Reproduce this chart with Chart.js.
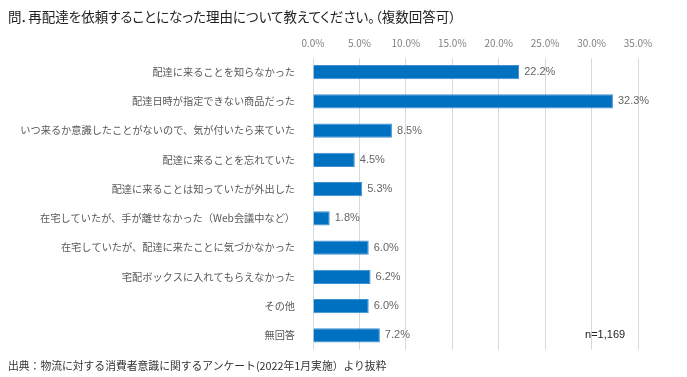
<!DOCTYPE html>
<html lang="ja">
<head>
<meta charset="utf-8">
<script src="https://cdn.jsdelivr.net/npm/chart.js@4"></script>
<style>
  html, body { margin: 0; padding: 0; background: #fff; }
  #wrap { position: relative; width: 687px; height: 377px; overflow: hidden; }
  #c { position: absolute; left: 0; top: 0; }
  .txt { position: absolute; font-family: "Noto Sans CJK JP", sans-serif; white-space: nowrap; }
  #title { left: 8px; top: 6px; font-size: 13.5px; color: #222; font-feature-settings: "palt"; }
  #foot { left: 8px; top: 357px; font-size: 10.8px; color: #333; }
</style>
</head>
<body>
<div id="wrap">
  <canvas id="c" width="687" height="377"></canvas>
  <div id="title" class="txt">問．再配達を依頼することになった理由について教えてください。（複数回答可）</div>
  <div id="foot" class="txt">出典：物流に対する消費者意識に関するアンケート(2022年1月実施）より抜粋</div>
</div>
<script>
const categories = [
  "配達に来ることを知らなかった",
  "配達日時が指定できない商品だった",
  "いつ来るか意識したことがないので、気が付いたら来ていた",
  "配達に来ることを忘れていた",
  "配達に来ることは知っていたが外出した",
  "在宅していたが、手が離せなかった（Web会議中など）",
  "在宅していたが、配達に来たことに気づかなかった",
  "宅配ボックスに入れてもらえなかった",
  "その他",
  "無回答"
];
const values = [22.2, 32.3, 8.5, 4.5, 5.3, 1.8, 6.0, 6.2, 6.0, 7.2];
const tickValues = [0, 5, 10, 15, 20, 25, 30, 35];
const sampleNote = "n=1,169";

const valueLabels = {
  id: 'valueLabels',
  afterDatasetsDraw(chart) {
    const ctx = chart.ctx;
    const meta = chart.getDatasetMeta(0);
    ctx.save();
    ctx.font = '11px "Liberation Sans", Arial, sans-serif';
    ctx.fillStyle = '#666666';
    ctx.textAlign = 'left';
    ctx.textBaseline = 'middle';
    meta.data.forEach((bar, i) => {
      ctx.fillText(values[i].toFixed(1) + '%', bar.x + 5, bar.y);
    });
    const xs = chart.scales.x, ys = chart.scales.y;
    ctx.fillStyle = '#222';
    ctx.font = '11px "Liberation Sans", Arial, sans-serif';
    ctx.fillText(sampleNote, xs.getPixelForValue(29.3), ys.getPixelForValue(categories.length - 1));
    ctx.restore();
  }
};

new Chart(document.getElementById('c'), {
  type: 'bar',
  data: {
    labels: categories,
    datasets: [{
      data: values,
      backgroundColor: '#0070C0',
      borderColor: '#3E8FD0',
      borderWidth: 1,
      barPercentage: 0.96,
      categoryPercentage: 0.5
    }]
  },
  options: {
    indexAxis: 'y',
    responsive: false,
    animation: false,
    layout: { padding: { left: 0, right: 49, top: 0, bottom: 27 } },
    plugins: { legend: { display: false }, tooltip: { enabled: false }, title: { display: false } },
    scales: {
      x: {
        position: 'top',
        min: 0, max: 35,
        afterBuildTicks(scale) { scale.ticks = tickValues.map(v => ({ value: v })); },
        afterFit(scale) { scale.height = 57.5; },
        ticks: {
          padding: 8,
          color: '#7f7f7f',
          font: { family: '"Noto Sans CJK JP", sans-serif', size: 10 },
          callback: v => Number(v).toFixed(1) + '%'
        },
        grid: { color: '#d9d9d9', drawTicks: false },
        border: { display: false }
      },
      y: {
        afterFit(scale) { scale.width = 313; },
        ticks: {
          padding: 10,
          color: '#595959',
          font: { family: '"Noto Sans CJK JP", sans-serif', size: 10.2 }
        },
        grid: { display: false },
        border: { display: false }
      }
    }
  },
  plugins: [valueLabels]
});
</script>
</body>
</html>
